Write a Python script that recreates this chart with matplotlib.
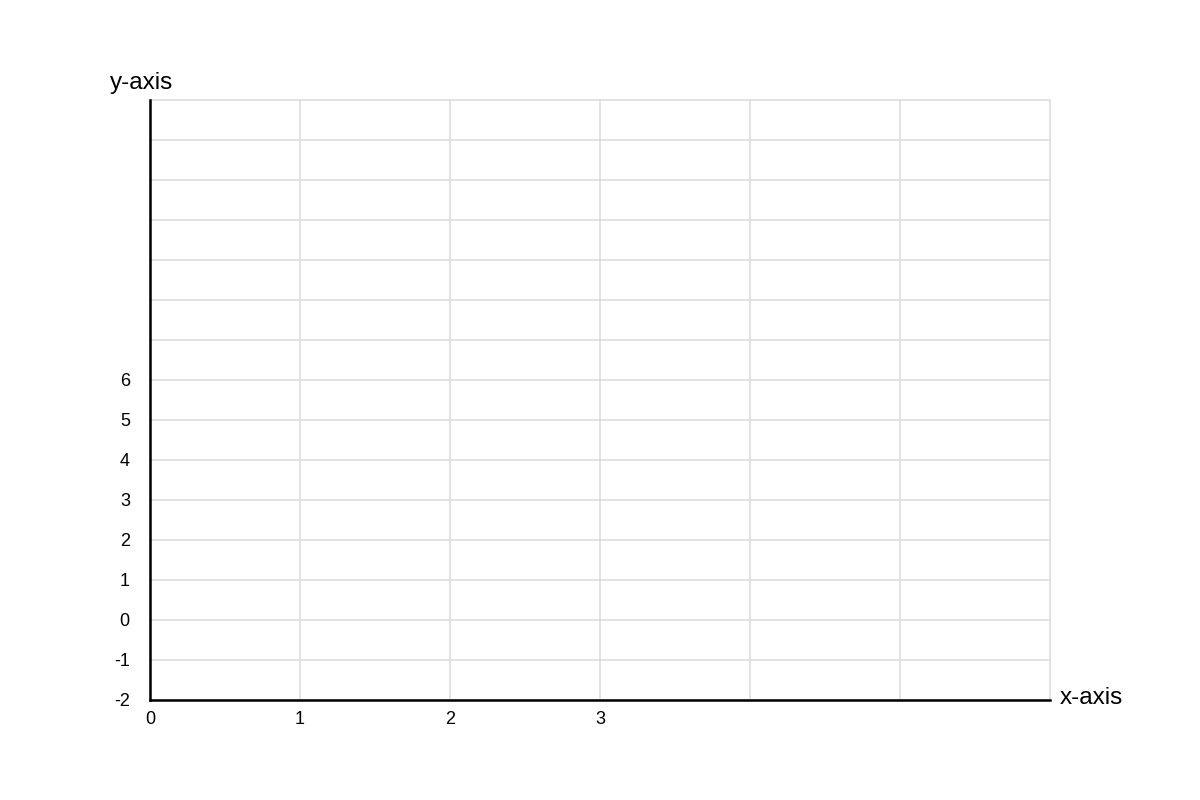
import matplotlib
matplotlib.use('Agg')
import matplotlib.pyplot as plt

plt.rcParams['font.family'] = ['Liberation Sans', 'DejaVu Sans']

# 軸の目盛りとラベル
x_ticks = [0, 1, 2, 3, 4, 5, 6]
x_labels = ['0', '1', '2', '3', '', '', '']
y_ticks = list(range(-2, 14))
y_labels = [str(v) if v <= 6 else '' for v in y_ticks]
x_name = 'x-axis'
y_name = 'y-axis'

fig = plt.figure(figsize=(12, 8), dpi=100)
ax = fig.add_axes([0.125, 0.125, 0.75, 0.75])

ax.set_xlim(x_ticks[0], x_ticks[-1])
ax.set_ylim(y_ticks[0], y_ticks[-1])
ax.set_xticks(x_ticks)
ax.set_xticklabels(x_labels)
ax.set_yticks(y_ticks)
ax.set_yticklabels(y_labels)

ax.grid(True, color='#dddddd', lw=1.2)
ax.set_axisbelow(True)
# 端のグリッド線が半分に切れないようにする
for gl in ax.get_xgridlines() + ax.get_ygridlines():
    gl.set_clip_on(False)
ax.tick_params(axis='both', length=0, labelsize=13, colors='black')
ax.tick_params(axis='y', pad=14.5)
ax.tick_params(axis='x', pad=8)

for s in ['top', 'right']:
    ax.spines[s].set_visible(False)
for s in ['left', 'bottom']:
    ax.spines[s].set_color('black')
    ax.spines[s].set_linewidth(1.8)
    ax.spines[s].set_zorder(3)

# 軸名
fig.text(110 / 1200, 1 - 83 / 800, y_name, fontsize=17.5, ha='left', va='center')
fig.text(1060 / 1200, 1 - 698 / 800, x_name, fontsize=17.5, ha='left', va='center')

fig.savefig('out.png', dpi=100)
